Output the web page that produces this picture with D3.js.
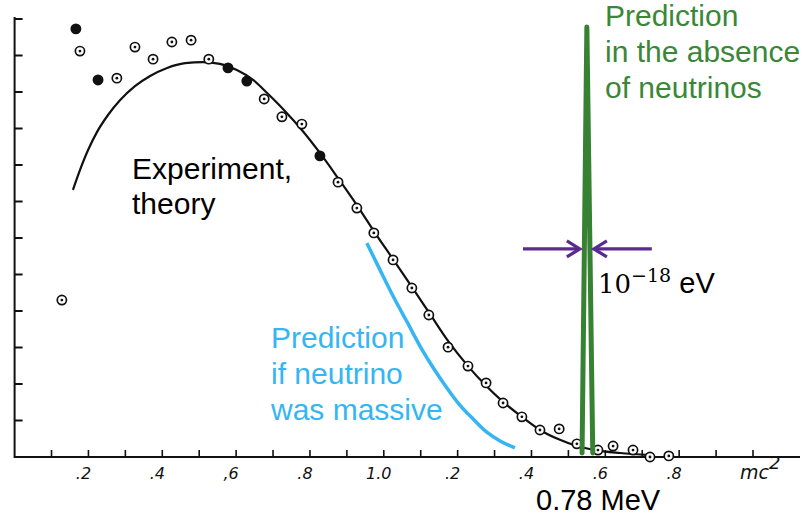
<!DOCTYPE html>
<html>
<head>
<meta charset="utf-8">
<script src="https://cdn.jsdelivr.net/npm/d3@7"></script>
<style>
  body { margin: 0; background: #fff; }
  svg { display: block; }
</style>
</head>
<body>
<svg width="809" height="519"></svg>
<script>
// measured points (x in mc^2 units, y in tick units)
var pointX = [0.166, 0.177, 0.226, 0.277, 0.326, 0.375, 0.426, 0.478, 0.526, 0.578, 0.629, 0.676, 0.128,
              0.724, 0.778, 0.827, 0.876, 0.927, 0.973, 1.025, 1.076, 1.122, 1.174, 1.228, 1.277,
              1.323, 1.374, 1.423, 1.475, 1.523, 1.580, 1.621, 1.675, 1.721, 1.772];
var pointY = [11.73, 11.12, 10.33, 10.38, 11.23, 10.90, 11.37, 11.42, 10.90, 10.66, 10.30, 9.81, 4.30,
              9.32, 9.12, 8.25, 7.53, 6.82, 6.14, 5.40, 4.63, 3.89, 3.01, 2.49, 2.03,
              1.48, 1.10, 0.74, 0.77, 0.36, 0.19, 0.30, 0.19, 0.0, 0.03];
var solidPoints = [0, 2, 9, 10, 15];

// theory curve
var theoryX = [0.158, 0.177, 0.199, 0.223, 0.253, 0.286, 0.326, 0.367, 0.413, 0.462, 0.510, 0.556,
               0.602, 0.646, 0.686, 0.732, 0.778, 0.827, 0.876, 0.927, 0.973, 1.025, 1.076, 1.125,
               1.174, 1.228, 1.277, 1.323, 1.374, 1.423, 1.477, 1.523, 1.572, 1.640, 1.721];
var theoryY = [7.32, 7.86, 8.41, 8.90, 9.37, 9.78, 10.16, 10.44, 10.66, 10.79, 10.82, 10.77,
               10.60, 10.33, 9.95, 9.48, 8.96, 8.33, 7.64, 6.90, 6.19, 5.42, 4.66, 3.92,
               3.18, 2.49, 1.95, 1.51, 1.10, 0.74, 0.47, 0.30, 0.19, 0.11, 0.05];

// massive neutrino prediction
var massiveX = [0.954, 0.990, 1.025, 1.063, 1.098, 1.136, 1.171, 1.206, 1.242, 1.279, 1.315, 1.355];
var massiveY = [5.86, 5.12, 4.41, 3.70, 3.04, 2.41, 1.89, 1.42, 1.04, 0.68, 0.44, 0.25];

// no-neutrino spike
var spikeX = [1.537, 1.550, 1.566];
var spikeY = [0.11, 11.78, 0.11];

var tickLabels = [".2", ".4", ",6", ".8", "1.0", ".2", ".4", ".6", ".8"];
var tickValues = [0.2, 0.4, 0.6, 0.8, 1.0, 1.2, 1.4, 1.6, 1.8];

var svg = d3.select("svg");

var x = d3.scaleLinear().domain([0, 2]).range([14.6, 753]);
var y = d3.scaleLinear().domain([0, 12]).range([457, 19]);

var ink = "#111";

// axes
svg.append("line")
    .attr("x1", x(0) - 0.5).attr("x2", 800)
    .attr("y1", y(0)).attr("y2", y(0))
    .attr("stroke", ink).attr("stroke-width", 2);
svg.append("line")
    .attr("x1", x(0)).attr("x2", x(0))
    .attr("y1", y(12) - 2).attr("y2", y(0) + 1)
    .attr("stroke", ink).attr("stroke-width", 2);

svg.append("g")
    .selectAll("line")
    .data(d3.range(1, 21).map(function (i) { return i / 10; }))
    .enter().append("line")
    .attr("x1", x).attr("x2", x)
    .attr("y1", y(0)).attr("y2", y(0) - 7)
    .attr("stroke", ink).attr("stroke-width", 1.6);

svg.append("g")
    .selectAll("line")
    .data(d3.range(1, 13))
    .enter().append("line")
    .attr("x1", x(0)).attr("x2", x(0) + 8)
    .attr("y1", y).attr("y2", y)
    .attr("stroke", ink).attr("stroke-width", 2);

svg.append("g")
    .selectAll("text")
    .data(tickValues)
    .enter().append("text")
    .attr("x", function (d) { return x(d) - 5; })
    .attr("y", 479)
    .attr("text-anchor", "middle")
    .attr("font-family", "DejaVu Sans")
    .attr("font-style", "italic")
    .attr("font-size", 16)
    .attr("fill", ink)
    .text(function (d, i) { return tickLabels[i]; });

var mc = svg.append("text")
    .attr("x", x(2.0) - 13)
    .attr("y", 479)
    .attr("font-family", "DejaVu Sans")
    .attr("font-style", "italic")
    .attr("font-size", 19)
    .attr("fill", ink);
mc.append("tspan").text("mc");
mc.append("tspan").attr("dy", -10).attr("font-size", 18).text("2");

var line = d3.line()
    .x(function (d) { return x(d[0]); })
    .y(function (d) { return y(d[1]); })
    .curve(d3.curveMonotoneX);

// theory curve
svg.append("path")
    .datum(theoryX.map(function (v, i) { return [v, theoryY[i]]; }))
    .attr("d", line)
    .attr("fill", "none")
    .attr("stroke", ink)
    .attr("stroke-width", 2.2);

// data points
var pts = svg.append("g")
    .selectAll("g")
    .data(pointX.map(function (v, i) { return [v, pointY[i], solidPoints.indexOf(i) >= 0]; }))
    .enter().append("g")
    .attr("transform", function (d) { return "translate(" + x(d[0]) + "," + y(d[1]) + ")"; });

pts.append("circle")
    .attr("r", 4.6)
    .attr("fill", function (d) { return d[2] ? ink : "#fff"; })
    .attr("stroke", ink)
    .attr("stroke-width", 1.7);
pts.filter(function (d) { return !d[2]; })
    .append("circle")
    .attr("r", 1.4)
    .attr("fill", ink);

// massive neutrino curve
svg.append("path")
    .datum(massiveX.map(function (v, i) { return [v, massiveY[i]]; }))
    .attr("d", line)
    .attr("fill", "none")
    .attr("stroke", "#35b5f1")
    .attr("stroke-width", 3.5);

// spike
svg.append("path")
    .datum(spikeX.map(function (v, i) { return [v, spikeY[i]]; }))
    .attr("d", d3.line().x(function (d) { return x(d[0]); }).y(function (d) { return y(d[1]); }))
    .attr("fill", "none")
    .attr("stroke", "#378232")
    .attr("stroke-width", 5)
    .attr("stroke-linejoin", "round")
    .attr("stroke-linecap", "round");

// width arrows
var purple = "#5a2b8e";
var arrowY = 5.70;
function arrow(from, to) {
    var x0 = x(from), x1 = x(to), yy = y(arrowY), s = x1 > x0 ? -1 : 1;
    svg.append("line")
        .attr("x1", x0).attr("x2", x1 + s * 2)
        .attr("y1", yy).attr("y2", yy)
        .attr("stroke", purple).attr("stroke-width", 3.2);
    svg.append("path")
        .attr("d", "M" + (x1 + s * 13) + "," + (yy - 8) + "L" + x1 + "," + yy + "L" + (x1 + s * 13) + "," + (yy + 8))
        .attr("fill", "none")
        .attr("stroke", purple).attr("stroke-width", 3.2);
}
arrow(1.377, 1.531);
arrow(1.726, 1.569);

// annotations
function block(lines, x0, y0, dy, color, size) {
    var t = svg.append("text")
        .attr("font-family", "Liberation Sans, Arial, sans-serif")
        .attr("font-size", size || 30)
        .attr("fill", color);
    lines.forEach(function (s, i) {
        t.append("tspan").attr("x", x0).attr("y", y0 + i * dy).text(s);
    });
}
block(["Experiment,", "theory"], 132, 179, 35, "#000");
block(["Prediction", "if neutrino", "was massive"], 271, 348, 36, "#35b5f1");
block(["Prediction", "in the absence", "of neutrinos"], 605, 26, 36, "#3a8737");
block(["0.78 MeV"], 536, 510, 0, "#000", 29);

var ev = svg.append("text")
    .attr("x", 598).attr("y", 293)
    .attr("font-family", "DejaVu Serif")
    .attr("font-size", 26)
    .attr("fill", "#000");
ev.append("tspan").text("10");
ev.append("tspan").attr("dy", -11).attr("font-size", 19).text("\u221218");
ev.append("tspan").attr("dy", 11).attr("font-family", "Liberation Sans, Arial, sans-serif").attr("font-size", 29).text(" eV");
</script>
</body>
</html>
